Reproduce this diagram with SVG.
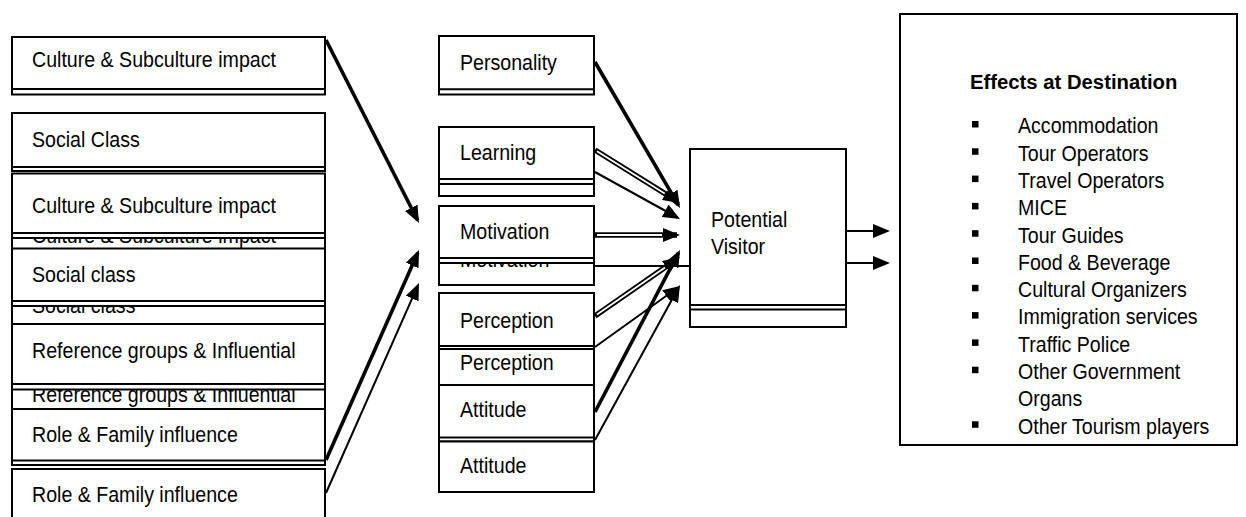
<svg xmlns="http://www.w3.org/2000/svg" width="1246" height="517" viewBox="0 0 1246 517">
  <defs>
    <style>
      .box{fill:#fff;stroke:#000;stroke-width:2}
      .ln{stroke:#000;stroke-width:2;fill:none}
      .t{font-family:"Liberation Sans",Arial,sans-serif;font-size:19.6px;fill:#000}
      .h{font-weight:bold;font-size:20.3px}
      .w{stroke:#000;fill:none;stroke-width:3.6}
      .n{stroke:#000;fill:none;stroke-width:2}
      .d{stroke:#000;fill:none;stroke-width:5.5}
      .di{stroke:#fff;fill:none;stroke-width:1.8}
      .bul{fill:#000}
    </style>
    <marker id="ah" markerUnits="userSpaceOnUse" markerWidth="17" markerHeight="14" refX="14" refY="7" orient="auto">
      <path d="M0,0 L17,7 L0,14 z" fill="#000"/>
    </marker>
  </defs>
  <rect width="1246" height="517" fill="#fff"/>

  <!-- left column: social and cultural influences (duplicates sit underneath) -->
  <g id="culture-dup"><rect class="box" x="12" y="204" width="313" height="65"/><text class="t" transform="translate(32 243) scale(1 1.1)">Culture &amp; Subculture impact</text></g>
  <g id="social-class-dup"><rect class="box" x="12" y="279" width="313" height="58"/><text class="t" transform="translate(32 313) scale(1 1.1)">Social class</text></g>
  <g id="reference-dup"><rect class="box" x="12" y="368" width="313" height="57"/><text class="t" transform="translate(32 401.5) scale(1 1.1)">Reference groups &amp; Influential</text></g>

  <g id="culture-1"><rect class="box" x="12" y="37" width="313" height="57.5"/><line class="ln" x1="12" y1="89" x2="325" y2="89"/><text class="t" transform="translate(32 67) scale(1 1.1)">Culture &amp; Subculture impact</text></g>
  <g id="social-class-1"><rect class="box" x="12" y="113" width="313" height="58"/><line class="ln" x1="12" y1="167" x2="325" y2="167"/><text class="t" transform="translate(32 147) scale(1 1.1)">Social Class</text></g>
  <g id="culture-2"><rect class="box" x="12" y="173.5" width="313" height="64.5"/><line class="ln" x1="12" y1="233" x2="325" y2="233"/><text class="t" transform="translate(32 212.5) scale(1 1.1)">Culture &amp; Subculture impact</text></g>
  <g id="social-class-2"><rect class="box" x="12" y="248.5" width="313" height="57.5"/><line class="ln" x1="12" y1="301" x2="325" y2="301"/><text class="t" transform="translate(32 282) scale(1 1.1)">Social class</text></g>
  <g id="reference-groups"><rect class="box" x="12" y="324" width="313" height="65.5"/><line class="ln" x1="12" y1="384" x2="325" y2="384"/><text class="t" transform="translate(32 357.5) scale(1 1.1)">Reference groups &amp; Influential</text></g>
  <g id="role-family-1"><rect class="box" x="12" y="409" width="313" height="56"/><line class="ln" x1="12" y1="460.5" x2="325" y2="460.5"/><text class="t" transform="translate(32 442) scale(1 1.1)">Role &amp; Family influence</text></g>
  <g id="role-family-2"><rect class="box" x="12" y="469" width="313" height="70"/><text class="t" transform="translate(32 502) scale(1 1.1)">Role &amp; Family influence</text></g>

  <!-- middle column: personal factors -->
  <g id="personality"><rect class="box" x="439" y="36" width="155" height="58.5"/><line class="ln" x1="439" y1="89.3" x2="594" y2="89.3"/><text class="t" transform="translate(460 69.5) scale(1 1.1)">Personality</text></g>
  <g id="learning"><rect class="box" x="439" y="127" width="155" height="69"/><line class="ln" x1="439" y1="179" x2="594" y2="179"/><line class="ln" x1="439" y1="184" x2="594" y2="184"/><text class="t" transform="translate(460 160) scale(1 1.1)">Learning</text></g>
  <g id="motivation-dup"><rect class="box" x="439" y="234.5" width="155" height="50.5"/><text class="t" transform="translate(460 266.5) scale(1 1.1)">Motivation</text></g>
  <g id="motivation"><rect class="box" x="439" y="206" width="155" height="57"/><line class="ln" x1="439" y1="258" x2="594" y2="258"/><text class="t" transform="translate(460 238.5) scale(1 1.1)">Motivation</text></g>
  <g id="perception-1"><rect class="box" x="439" y="293" width="155" height="56"/><line class="ln" x1="439" y1="346" x2="594" y2="346"/><text class="t" transform="translate(460 327.5) scale(1 1.1)">Perception</text></g>
  <g id="perception-2"><rect class="box" x="439" y="349" width="155" height="36"/><text class="t" transform="translate(460 370) scale(1 1.1)">Perception</text></g>
  <g id="attitude-1"><rect class="box" x="439" y="385" width="155" height="56.5"/><line class="ln" x1="439" y1="437.5" x2="594" y2="437.5"/><text class="t" transform="translate(460 417) scale(1 1.1)">Attitude</text></g>
  <g id="attitude-2"><rect class="box" x="439" y="441.5" width="155" height="50.5"/><text class="t" transform="translate(460 473) scale(1 1.1)">Attitude</text></g>

  <!-- centre: the visitor -->
  <g id="potential-visitor">
    <rect class="box" x="690" y="149" width="156" height="178"/>
    <line class="ln" x1="690" y1="305" x2="846" y2="305"/>
    <line class="ln" x1="690" y1="309.5" x2="846" y2="309.5"/>
    <text class="t" transform="translate(711 227) scale(1 1.15)">Potential</text>
    <text class="t" transform="translate(711 253.5) scale(1 1.15)">Visitor</text>
  </g>

  <!-- right: destination effects -->
  <g id="effects">
    <rect class="box" x="900" y="14" width="337" height="431"/>
    <text class="t h" x="970" y="89">Effects at Destination</text>
    <g class="bul">
      <rect x="972" y="121" width="6.5" height="6.5"/>
      <rect x="972" y="148.3" width="6.5" height="6.5"/>
      <rect x="972" y="175.6" width="6.5" height="6.5"/>
      <rect x="972" y="202.9" width="6.5" height="6.5"/>
      <rect x="972" y="230.2" width="6.5" height="6.5"/>
      <rect x="972" y="257.5" width="6.5" height="6.5"/>
      <rect x="972" y="284.8" width="6.5" height="6.5"/>
      <rect x="972" y="312.1" width="6.5" height="6.5"/>
      <rect x="972" y="339.4" width="6.5" height="6.5"/>
      <rect x="972" y="366.7" width="6.5" height="6.5"/>
      <rect x="972" y="421.3" width="6.5" height="6.5"/>
    </g>
    <text class="t" transform="translate(1018 133.3) scale(1 1.15)">Accommodation</text>
    <text class="t" transform="translate(1018 160.6) scale(1 1.15)">Tour Operators</text>
    <text class="t" transform="translate(1018 187.9) scale(1 1.15)">Travel Operators</text>
    <text class="t" transform="translate(1018 215.2) scale(1 1.15)">MICE</text>
    <text class="t" transform="translate(1018 242.5) scale(1 1.15)">Tour Guides</text>
    <text class="t" transform="translate(1018 269.8) scale(1 1.15)">Food &amp; Beverage</text>
    <text class="t" transform="translate(1018 297.1) scale(1 1.15)">Cultural Organizers</text>
    <text class="t" transform="translate(1018 324.4) scale(1 1.15)">Immigration services</text>
    <text class="t" transform="translate(1018 351.7) scale(1 1.15)">Traffic Police</text>
    <text class="t" transform="translate(1018 379) scale(1 1.15)">Other Government</text>
    <text class="t" transform="translate(1018 406.3) scale(1 1.15)">Organs</text>
    <text class="t" transform="translate(1018 433.6) scale(1 1.15)">Other Tourism players</text>
  </g>

  <!-- connectors -->
  <g id="connectors">
    <line class="w" x1="326" y1="40" x2="417.6" y2="220.3" marker-end="url(#ah)"/>
    <line class="w" x1="326" y1="460" x2="417.8" y2="252.7" marker-end="url(#ah)"/>
    <line class="n" x1="326" y1="493" x2="417.8" y2="285.7" marker-end="url(#ah)"/>

    <line class="w" x1="595" y1="62" x2="678.5" y2="205.4" marker-end="url(#ah)"/>
    <line class="d" x1="595" y1="150" x2="677.5" y2="201.4" marker-end="url(#ah)"/>
    <line class="di" x1="597" y1="151.2" x2="664.7" y2="193.5"/>
    <line class="n" x1="595" y1="172" x2="677.4" y2="217.5" marker-end="url(#ah)"/>
    <line class="d" x1="595" y1="235" x2="677" y2="235" marker-end="url(#ah)"/>
    <line class="di" x1="597" y1="235" x2="662" y2="235"/>
    <line class="n" x1="595" y1="266" x2="689" y2="266"/>
    <line class="d" x1="595" y1="316" x2="677.5" y2="258.7" marker-end="url(#ah)"/>
    <line class="di" x1="597" y1="314.6" x2="665" y2="267.4"/>
    <line class="n" x1="595" y1="347" x2="677.6" y2="287.7" marker-end="url(#ah)"/>
    <line class="w" x1="595" y1="412" x2="678.6" y2="252.7" marker-end="url(#ah)"/>
    <line class="n" x1="595" y1="440" x2="678.6" y2="287.6" marker-end="url(#ah)"/>

    <line class="n" x1="846" y1="231" x2="887" y2="231" marker-end="url(#ah)"/>
    <line class="n" x1="846" y1="263" x2="887" y2="263" marker-end="url(#ah)"/>
  </g>
</svg>
